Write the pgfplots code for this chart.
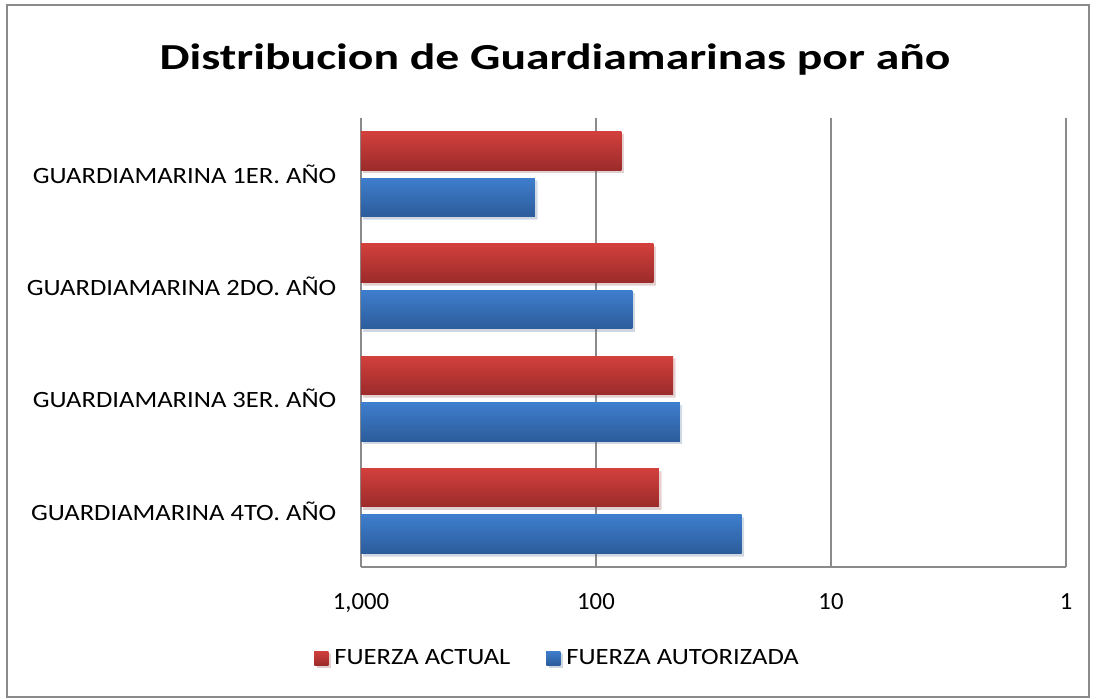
\documentclass[border=0pt]{standalone}
\usepackage{pgfplots}
\pgfplotsset{compat=1.18}
\usetikzlibrary{shadows}
\usepackage{fontspec}
\setmainfont{Carlito}[FakeStretch=1.14]
\newfontfamily\numfont{Carlito}
\newfontfamily\titlefont{Carlito}[FakeStretch=1.3]

\definecolor{redtop}{HTML}{D2403C}
\definecolor{redbot}{HTML}{9B2B2B}
\definecolor{bluetop}{HTML}{3E7ECD}
\definecolor{bluebot}{HTML}{2C5C9B}
\definecolor{gridgray}{HTML}{8A8A8A}

\pgfplotsset{
  barshadow/.style={drop shadow={shadow xshift=1.8pt, shadow yshift=-2pt, opacity=0.15}},
  redbar/.style={draw=none, top color=redtop, bottom color=redbot, bar shift=0.207, barshadow,
    legend image code/.code={\fill[redtop!55!redbot] (0pt,-5.25pt) rectangle (10.5pt,5.25pt);}},
  bluebar/.style={draw=none, top color=bluetop, bottom color=bluebot, bar shift=-0.207, barshadow,
    legend image code/.code={\fill[bluetop!55!bluebot] (0pt,-5.25pt) rectangle (10.5pt,5.25pt);}},
}

\begin{document}
\begin{tikzpicture}
% 1 px of the reference = 0.75pt; the axis' lower left corner is at (0,0)
\path (-270.75pt,-98.25pt) rectangle (551.25pt,425.25pt);
\draw[gridgray, line width=1.4pt] (-265.5pt,-97.5pt) rectangle (546pt,421.5pt);
\node[font=\titlefont\fontsize{27.5}{33}\selectfont\bfseries] at (145.5pt,380.25pt)
  {Distribucion de Guardiamarinas por año};

\begin{axis}[
  at={(0pt,0pt)}, anchor=south west,
  scale only axis, width=528.75pt, height=336.75pt,
  xbar, bar width=0.343,
  x coord trafo/.code={\pgfmathparse{3-log10(#1)}},
  xmin=1000, xmax=1,
  ymin=-0.5, ymax=3.5,
  xtick={1000,100,10,1}, xticklabels={{1,000},100,10,1},
  ytick={0,1,2,3},
  yticklabels={GUARDIAMARINA 4TO. AÑO, GUARDIAMARINA 3ER. AÑO,
               GUARDIAMARINA 2DO. AÑO, GUARDIAMARINA 1ER. AÑO},
  axis lines=left, axis line style={-, draw=gridgray, line width=1.4pt},
  xmajorgrids, grid style={gridgray, line width=1.4pt},
  major tick length=0pt,
  tick label style={font=\fontsize{17.5}{21}\selectfont, black},
  xticklabel style={font=\numfont\fontsize{18.5}{22}\selectfont, yshift=-16.5pt},
  yticklabel style={xshift=-15pt},
  /pgf/number format/assume math mode=true,
  legend columns=2,
  legend style={at={(0.2794,-0.2027)}, anchor=center, draw=none,
    font=\fontsize{17.5}{21}\selectfont,
    /tikz/every odd column/.append style={column sep=2.5pt},
    /tikz/every even column/.append style={column sep=25pt}},
]
% FUERZA ACTUAL
\addplot[redbar] coordinates {(78,3)};
\addlegendentry{FUERZA ACTUAL}
% FUERZA AUTORIZADA
\addplot[bluebar] coordinates {(182,3)};
\addlegendentry{FUERZA AUTORIZADA}
\addplot[redbar, forget plot] coordinates {(57,2)};
\addplot[redbar, forget plot] coordinates {(47,1)};
\addplot[redbar, forget plot] coordinates {(54,0)};
\addplot[bluebar, forget plot] coordinates {(70,2)};
\addplot[bluebar, forget plot] coordinates {(44,1)};
\addplot[bluebar, forget plot] coordinates {(24,0)};
\end{axis}
\end{tikzpicture}
\end{document}
